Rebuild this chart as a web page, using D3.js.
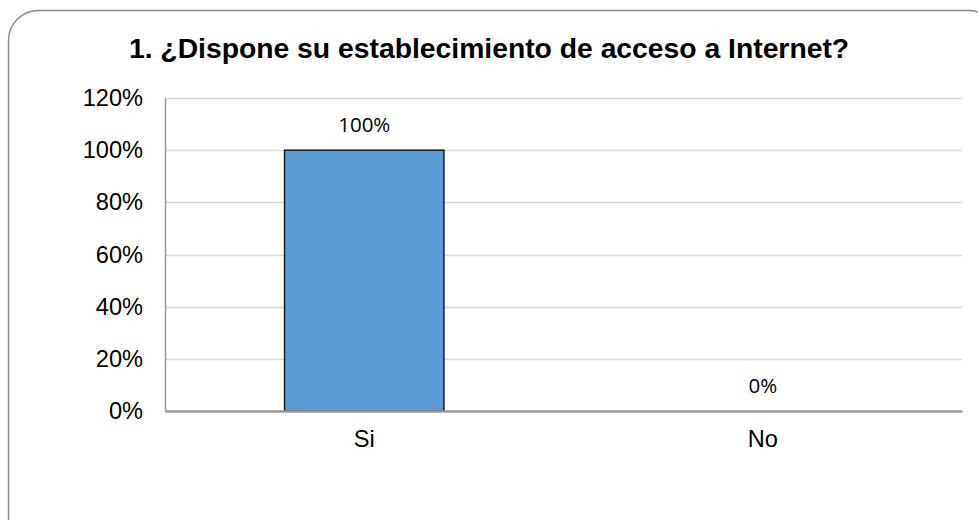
<!DOCTYPE html>
<html><head><meta charset="utf-8">
<script src="https://cdn.jsdelivr.net/npm/d3@7"></script>
<style>body{margin:0;background:#fff}svg{display:block}</style>
</head><body>
<script>
const categories = ["Si", "No"];
const values = [1.00, 0.00];
const valueLabels = ["100%", "0%"];
const yTicks = [0, 0.2, 0.4, 0.6, 0.8, 1.0, 1.2];
const title = "1. ¿Dispone su establecimiento de acceso a Internet?";

const W = 978, H = 520;
const svg = d3.select("body").append("svg").attr("width", W).attr("height", H);

svg.append("rect").attr("x", 8.5).attr("y", 10.5).attr("width", 990).attr("height", 540)
  .attr("rx", 30).attr("fill", "#fff").attr("stroke", "#8c8c8c").attr("stroke-width", 1.5);

const L = 165, R = 962, T = 98, B = 411;
const x = d3.scaleBand().domain(categories).range([L, R]).paddingInner(0.6).paddingOuter(0.3);
const y = d3.scaleLinear().domain([0, 1.2]).range([B, T]);

svg.append("text").attr("x", 489).attr("y", 58).attr("text-anchor", "middle")
  .attr("font-family", "Liberation Sans, Arial, sans-serif").attr("font-weight", "bold")
  .attr("font-size", 28.3).attr("fill", "#000").text(title);

// gridlines
svg.append("g").selectAll("line").data(yTicks.filter(d => d > 0)).join("line")
  .attr("x1", L).attr("x2", R).attr("y1", d => Math.round(y(d)) + 0.5).attr("y2", d => Math.round(y(d)) + 0.5)
  .attr("stroke", "#d9d9d9").attr("stroke-width", 1.5);

// y axis
const yAxis = d3.axisLeft(y).tickValues(yTicks).tickFormat(d3.format(".0%")).tickSize(0).tickPadding(22);
const gy = svg.append("g").attr("transform", `translate(${L},0)`).call(yAxis);
gy.select(".domain").attr("stroke", "#9a9a9a").attr("stroke-width", 1.5);
gy.selectAll("text").attr("font-family", "Liberation Sans, Arial, sans-serif").attr("font-size", 23.6).attr("fill", "#000");

// bars
svg.append("g").selectAll("rect").data(categories).join("rect")
  .attr("x", d => x(d)).attr("width", x.bandwidth())
  .attr("y", (d, i) => y(values[i])).attr("height", (d, i) => B - y(values[i]))
  .attr("fill", "#5b9bd5").attr("stroke", "#1a1a1a").attr("stroke-width", 1.5);

// x axis
const xAxis = d3.axisBottom(x).tickSize(0).tickPadding(19);
const gx = svg.append("g").attr("transform", `translate(0,${B})`).call(xAxis);
gx.select(".domain").attr("stroke", "#9a9a9a").attr("stroke-width", 2.5);
gx.selectAll("text").attr("font-family", "Liberation Sans, Arial, sans-serif").attr("font-size", 23.6).attr("fill", "#000");

// value labels
svg.append("g").selectAll("text").data(categories).join("text")
  .attr("x", d => x(d) + x.bandwidth() / 2).attr("y", (d, i) => y(values[i]) - 18)
  .attr("text-anchor", "middle").attr("font-family", "Open Sans, Carlito, sans-serif").attr("font-size", 20.5)
  .attr("fill", "#000").text((d, i) => valueLabels[i]);
</script>
</body></html>
